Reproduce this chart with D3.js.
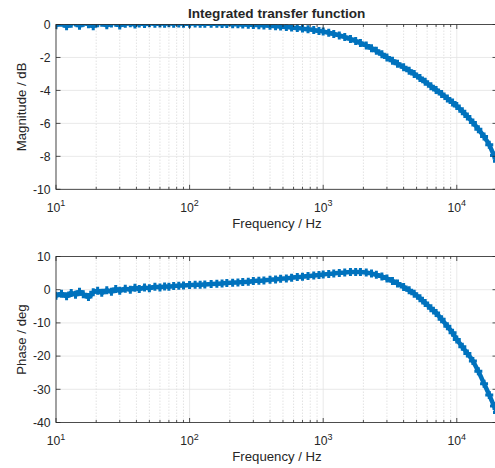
<!DOCTYPE html>
<html>
<head>
<script src="https://cdn.jsdelivr.net/npm/d3@7"></script>
<style>
  body { margin: 0; background: #fff; }
  text { font-family: "Liberation Sans", Arial, sans-serif; fill: #262626; }
</style>
</head>
<body>
<svg id="chart" width="495" height="468"></svg>
<script>
// frequencies (Hz)
var freq = [10, 11, 12, 13, 14, 15, 16, 17.5, 19, 20.5, 22, 24, 26, 28, 30, 33, 36, 39, 42, 46,
  50, 55, 60, 65, 70, 76, 83, 90, 100, 110, 120, 130, 145, 160, 175, 190, 210, 230, 250, 275,
  300, 330, 360, 400, 440, 480, 530, 580, 640, 700, 770, 850, 930, 1000, 1100, 1200, 1320, 1450,
  1600, 1750, 1900, 2100, 2300, 2500, 2750, 3000, 3300, 3600, 4000, 4400, 4800, 5300, 5800, 6400,
  7000, 7700, 8500, 9300, 10000, 11000, 12000, 13200, 14500, 16000, 17500, 19000, 20000];
// magnitude (dB)
var magnitude = [-0.05, 0.1, -0.1, 0.05, 0.12, -0.08, 0.1, 0.02, -0.1, 0.08, 0.1, -0.05, 0.06, 0.1, -0.06, 0.05, 0.08, 0.0, 0.06, 0.03,
  0.07, 0.04, 0.06, 0.05, 0.07, 0.05, 0.06, 0.05, 0.05, 0.06, 0.05, 0.05, 0.04, 0.04, 0.03, 0.03, 0.02, 0.01, 0.0, -0.01,
  -0.03, -0.04, -0.06, -0.08, -0.1, -0.12, -0.15, -0.18, -0.21, -0.25, -0.29, -0.34, -0.39, -0.43, -0.5, -0.57, -0.66, -0.76,
  -0.88, -1.0, -1.12, -1.28, -1.44, -1.6, -1.8, -2.0, -2.2, -2.38, -2.6, -2.8, -3.0, -3.25, -3.48, -3.74,
  -3.97, -4.22, -4.49, -4.74, -4.95, -5.27, -5.58, -5.95, -6.35, -6.8, -7.3, -7.95, -8.3];
// phase (deg)
var phase = [-1.8, -1.2, -2.0, -1.0, -1.5, -0.6, -1.4, -2.2, -0.8, -0.3, -0.9, -0.2, -0.6, 0.2, -0.3, 0.3, 0.0, 0.6, 0.2, 0.7,
  0.4, 0.9, 0.7, 1.0, 0.9, 1.1, 1.2, 1.3, 1.4, 1.5, 1.5, 1.6, 1.7, 1.8, 1.9, 2.0, 2.1, 2.2, 2.3, 2.4,
  2.6, 2.7, 2.8, 3.0, 3.1, 3.3, 3.4, 3.6, 3.8, 3.9, 4.1, 4.3, 4.45, 4.6, 4.75, 4.9, 5.05, 5.2,
  5.3, 5.35, 5.35, 5.2, 4.9, 4.5, 4.0, 3.35, 2.6, 1.9, 0.85, -0.2, -1.2, -2.6, -4.0, -5.6,
  -7.0, -8.9, -11.0, -13.0, -15.0, -17.2, -19.2, -21.5, -24.6, -28.3, -31.7, -35.0, -37.0];

var xTicks = [10, 100, 1000, 10000];
var magTicks = [-10, -8, -6, -4, -2, 0];
var phaseTicks = [-40, -30, -20, -10, 0, 10];

var svg = d3.select("#chart");
var blue = "#0072BD";

// minor decade positions
var minorTicks = [];
[10, 100, 1000, 10000].forEach(function(d) {
  for (var k = 2; k <= 9; k++) if (d * k <= 20000) minorTicks.push(d * k);
});

function drawPanel(cfg) {
  var x = d3.scaleLog().domain([10, 20000]).range([56, 497]);
  var y = d3.scaleLinear().domain(cfg.yDomain).range([cfg.bottom, cfg.top]);
  var g = svg.append("g");
  var clipId = "clip" + cfg.id;
  svg.append("clipPath").attr("id", clipId).append("rect")
    .attr("x", 56).attr("y", cfg.top).attr("width", 441).attr("height", cfg.bottom - cfg.top);

  // grid
  g.selectAll(".minor").data(minorTicks).enter().append("line")
    .attr("x1", function(d) { return x(d); }).attr("x2", function(d) { return x(d); })
    .attr("y1", cfg.top).attr("y2", cfg.bottom)
    .attr("stroke", "#dcdcdc").attr("stroke-width", 0.8).attr("stroke-dasharray", "1.5,1.5");
  g.selectAll(".majx").data(xTicks).enter().append("line")
    .attr("x1", function(d) { return x(d); }).attr("x2", function(d) { return x(d); })
    .attr("y1", cfg.top).attr("y2", cfg.bottom)
    .attr("stroke", "#e3e3e3").attr("stroke-width", 0.8);
  g.selectAll(".majy").data(cfg.yTicks).enter().append("line")
    .attr("x1", 56).attr("x2", 497)
    .attr("y1", function(d) { return y(d); }).attr("y2", function(d) { return y(d); })
    .attr("stroke", "#e3e3e3").attr("stroke-width", 0.8);

  // data
  var pts = freq.map(function(f, i) { return [f, cfg.values[i]]; });
  var dg = g.append("g").attr("clip-path", "url(#" + clipId + ")");
  dg.append("path")
    .attr("d", d3.line().curve(d3.curveMonotoneX).x(function(d) { return x(d[0]); }).y(function(d) { return y(d[1]); })(pts))
    .attr("fill", "none").attr("stroke", blue).attr("stroke-width", 4.5);
  var s = 4;
  dg.selectAll(".mk").data(pts).enter().append("path")
    .attr("d", function(d) {
      var cx = x(d[0]), cy = y(d[1]);
      return "M" + (cx - s) + "," + cy + "H" + (cx + s) + "M" + cx + "," + (cy - s) + "V" + (cy + s);
    })
    .attr("stroke", blue).attr("stroke-width", 3).attr("fill", "none");

  // box
  g.append("rect").attr("x", 56).attr("y", cfg.top).attr("width", 441).attr("height", cfg.bottom - cfg.top)
    .attr("fill", "none").attr("stroke", "#262626").attr("stroke-width", 0.8);

  // ticks (inward)
  var tk = g.append("g").attr("stroke", "#262626").attr("stroke-width", 0.8);
  xTicks.forEach(function(d) {
    tk.append("line").attr("x1", x(d)).attr("x2", x(d)).attr("y1", cfg.bottom).attr("y2", cfg.bottom - 4.5);
    tk.append("line").attr("x1", x(d)).attr("x2", x(d)).attr("y1", cfg.top).attr("y2", cfg.top + 4.5);
  });
  minorTicks.forEach(function(d) {
    tk.append("line").attr("x1", x(d)).attr("x2", x(d)).attr("y1", cfg.bottom).attr("y2", cfg.bottom - 2.5);
    tk.append("line").attr("x1", x(d)).attr("x2", x(d)).attr("y1", cfg.top).attr("y2", cfg.top + 2.5);
  });
  cfg.yTicks.forEach(function(d) {
    tk.append("line").attr("x1", 56).attr("x2", 60.5).attr("y1", y(d)).attr("y2", y(d));
    tk.append("line").attr("x1", 497).attr("x2", 492.5).attr("y1", y(d)).attr("y2", y(d));
  });

  // y tick labels
  g.selectAll(".yl").data(cfg.yTicks).enter().append("text")
    .attr("x", 50.5).attr("y", function(d) { return y(d) + 4.3; })
    .attr("text-anchor", "end").attr("font-size", 12.2)
    .text(function(d) { return d; });

  // x tick labels 10^n
  xTicks.forEach(function(d) {
    var t = g.append("text").attr("x", x(d)).attr("y", cfg.bottom + 22.5)
      .attr("text-anchor", "middle").attr("font-size", 12.2);
    t.append("tspan").text("10");
    t.append("tspan").attr("dy", -5.5).attr("font-size", 9).text(Math.round(Math.log10(d)));
  });

  // axis labels
  g.append("text").attr("x", 277).attr("y", cfg.bottom + 38.5)
    .attr("text-anchor", "middle").attr("font-size", 13.2).text("Frequency / Hz");
  g.append("text").attr("transform", "translate(26," + ((cfg.top + cfg.bottom) / 2) + ") rotate(-90)")
    .attr("text-anchor", "middle").attr("font-size", 13.2).text(cfg.ylabel);
}

drawPanel({ id: 1, top: 24.5, bottom: 189.3, yDomain: [-10, 0], yTicks: magTicks, values: magnitude, ylabel: "Magnitude / dB" });
drawPanel({ id: 2, top: 256.5, bottom: 422.5, yDomain: [-40, 10], yTicks: phaseTicks, values: phase, ylabel: "Phase / deg" });

svg.append("text").attr("x", 276.7).attr("y", 18).attr("text-anchor", "middle")
  .attr("font-size", 13.6).attr("font-weight", "bold").text("Integrated transfer function");
</script>
</body>
</html>
